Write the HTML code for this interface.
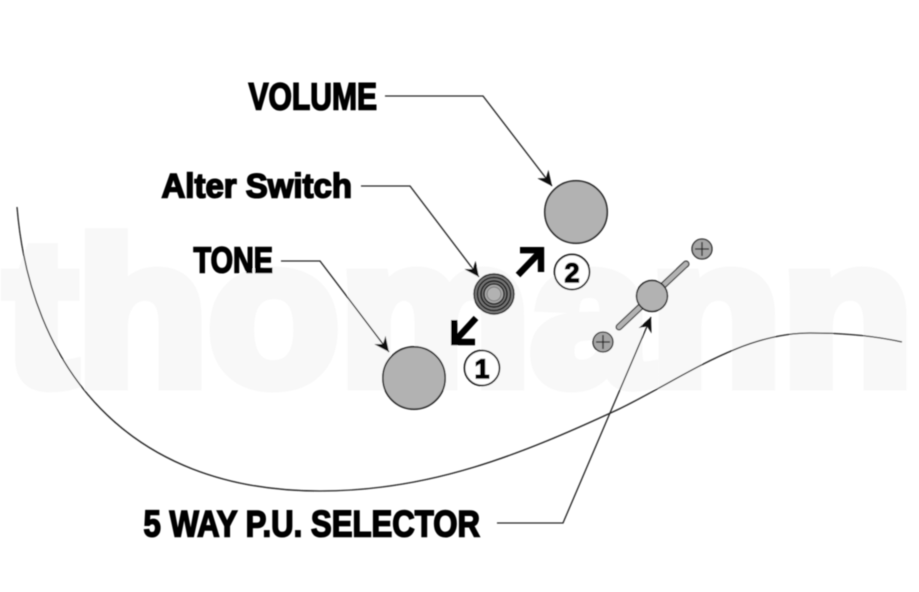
<!DOCTYPE html>
<html><head><meta charset="utf-8"><style>
html,body{margin:0;padding:0;background:#fff;width:919px;height:592px;overflow:hidden}
svg{display:block}
text{font-family:"Liberation Sans",sans-serif;font-weight:bold}
</style></head><body>
<svg width="919" height="592" viewBox="0 0 919 592" xmlns="http://www.w3.org/2000/svg">
<defs>
<marker id="a" markerUnits="userSpaceOnUse" markerWidth="20" markerHeight="20" refX="16" refY="10" orient="auto">
<path d="M16,10 L1,3 L6,10 L1,17 Z" fill="#111"/>
</marker>
<filter id="b" x="-5%" y="-5%" width="110%" height="110%"><feGaussianBlur stdDeviation="0.45"/></filter>
</defs>
<g filter="url(#b)">
<text x="5" y="384" font-size="206" fill="#f8f8f8" stroke="#f8f8f8" stroke-width="13" stroke-linejoin="miter" textLength="908" lengthAdjust="spacingAndGlyphs">thomann</text>

<path d="M17,207 C30,365 125,491 320,491 C430,491 520,455 617,410 C680,380 740,333 810,333 C845,333 875,336 902,342" fill="none" stroke="#222" stroke-width="1.3"/>

<g fill="#000" stroke="#000" stroke-width="1.6">
<text x="248.5" y="109.5" font-size="38" textLength="128.5" lengthAdjust="spacingAndGlyphs">VOLUME</text>
<text x="161.5" y="197.5" font-size="34" textLength="190.5" lengthAdjust="spacingAndGlyphs">Alter Switch</text>
<text x="193.5" y="272.5" font-size="36" textLength="79.5" lengthAdjust="spacingAndGlyphs">TONE</text>
<text x="143.5" y="536.5" font-size="37" textLength="336.5" lengthAdjust="spacingAndGlyphs">5 WAY P.U. SELECTOR</text>
</g>

<g fill="none" stroke="#222" stroke-width="1.3">
<polyline points="385,96 483,96 552,186" marker-end="url(#a)"/>
<polyline points="361,186 410,186 479,277" marker-end="url(#a)"/>
<polyline points="281,261 320,261 389,352" marker-end="url(#a)"/>
<polyline points="497,523 563,523 651,317" marker-end="url(#a)"/>
</g>

<circle cx="576" cy="212" r="31.2" fill="#b2b2b2" stroke="#222" stroke-width="1.6"/>
<circle cx="414" cy="378" r="31.2" fill="#b2b2b2" stroke="#222" stroke-width="1.6"/>

<circle cx="494" cy="294" r="20" fill="#777" stroke="#222" stroke-width="1.4"/>
<circle cx="494" cy="294" r="16.5" fill="none" stroke="#222" stroke-width="1.5"/>
<circle cx="494" cy="294" r="13" fill="#777" stroke="#222" stroke-width="1.7"/>
<circle cx="494" cy="294" r="10" fill="#aaa" stroke="#222" stroke-width="1.5"/>
<circle cx="494" cy="294" r="7" fill="#b2b2b2" stroke="#777" stroke-width="1"/>

<g fill="none" stroke="#000" stroke-width="6.4">
<path d="M518,275 L541,251"/>
<path d="M520,250.2 L541,250.2 L541,272"/>
<path d="M476,318 L454,342"/>
<path d="M454.2,320 L454.2,342 L475,342"/>
</g>

<circle cx="482" cy="368" r="17.5" fill="#fff" stroke="#111" stroke-width="1.7"/>
<circle cx="572" cy="272" r="17.5" fill="#fff" stroke="#111" stroke-width="1.7"/>
<g fill="#000" stroke="#000" stroke-width="1.4" text-anchor="middle">
<text x="482" y="378" font-size="27">1</text>
<text x="572" y="282" font-size="27">2</text>
</g>

<line x1="619" y1="327" x2="686" y2="264" stroke="#333" stroke-width="7" stroke-linecap="round"/>
<line x1="619" y1="327" x2="686" y2="264" stroke="#b2b2b2" stroke-width="4.6" stroke-linecap="round"/>
<circle cx="652" cy="296" r="15.5" fill="#b2b2b2" stroke="#222" stroke-width="1.5"/>

<g stroke="#222" stroke-width="1.3">
<circle cx="702" cy="249" r="10" fill="#a6a6a6"/>
<path d="M695,249 H709 M702,242 V256" fill="none"/>
<circle cx="603" cy="342" r="10" fill="#a6a6a6"/>
<path d="M596,342 H610 M603,335 V349" fill="none"/>
</g>
</g>
</svg>
</body></html>
